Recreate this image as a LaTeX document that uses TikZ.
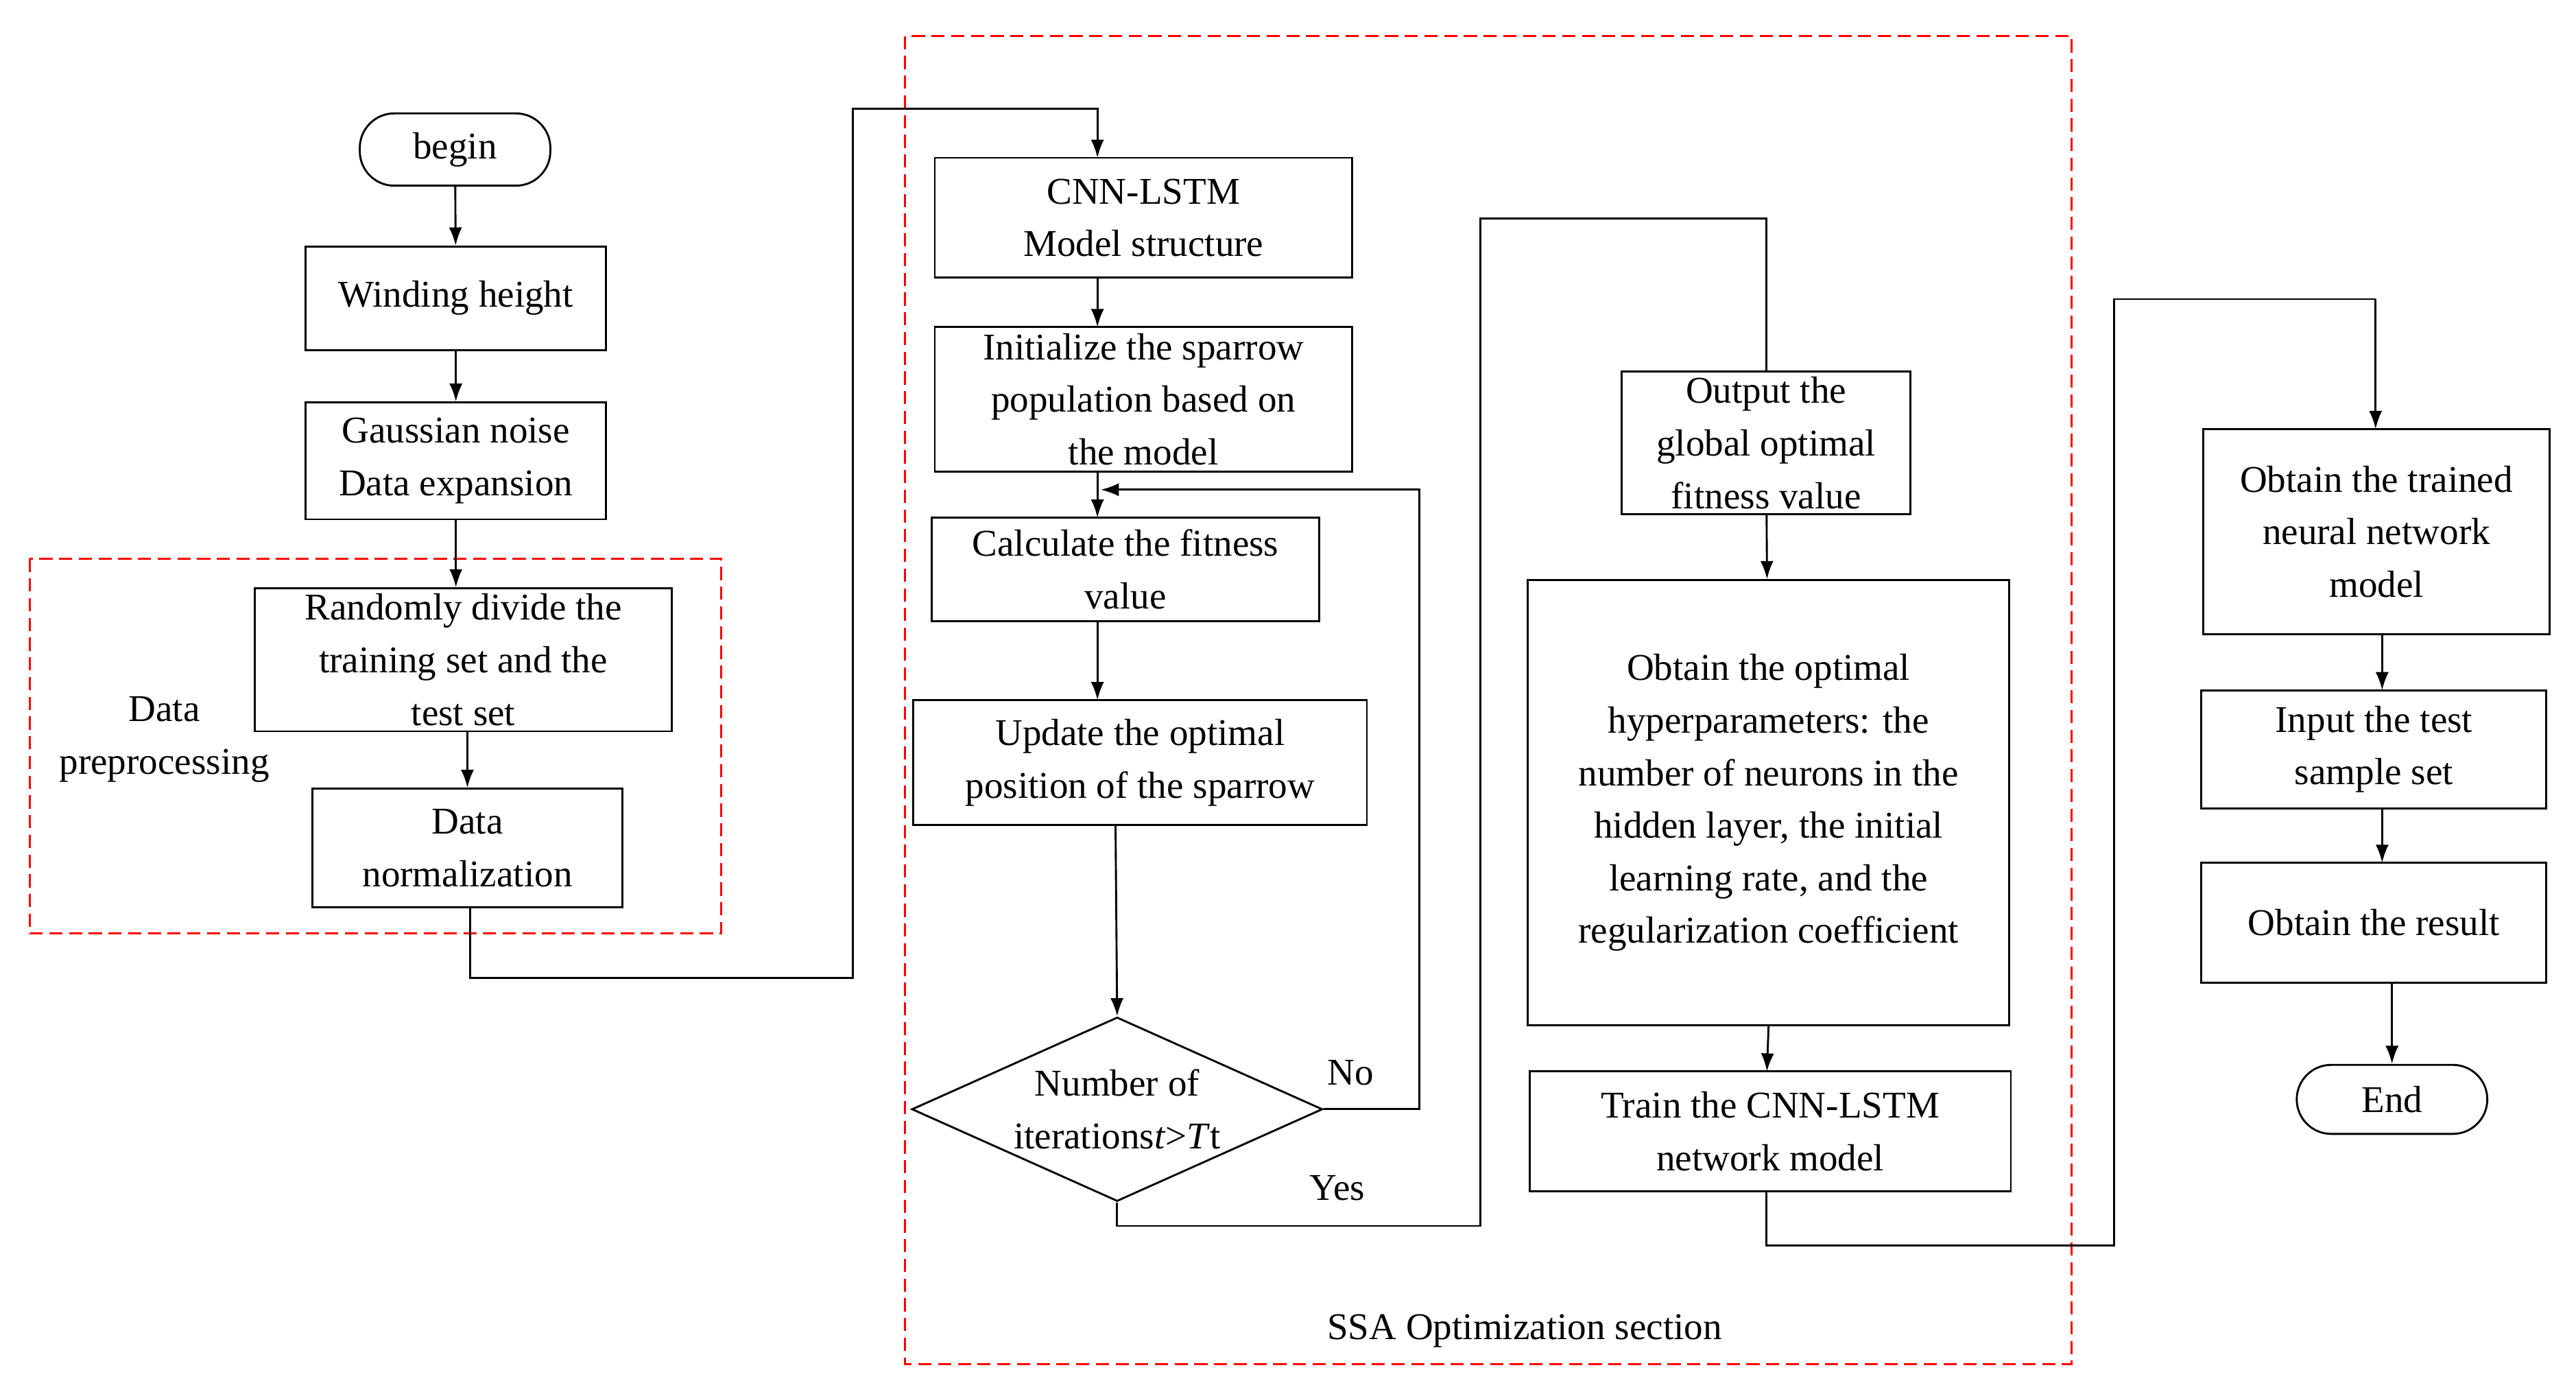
\documentclass[tikz,border=0pt]{standalone}
\usepackage{fontspec}
\setmainfont{Liberation Serif}
\usetikzlibrary{shapes.geometric,arrows.meta}
\begin{document}
\begin{tikzpicture}[x=1pt,y=-1pt,
  every node/.style={font=\fontsize{23}{32}\selectfont,align=center,inner sep=0pt},
  box/.style={draw,line width=1.2pt,rectangle},
  term/.style={draw,line width=1.2pt,rectangle,rounded corners=21pt},
  red/.style={draw=red,dashed,line width=1.3pt,dash pattern=on 8pt off 4pt},
  line/.style={line width=1.2pt},
  arr/.style={line width=1.2pt,-{Latex[length=11pt,width=8pt]}}]
\useasboundingbox (0,0) rectangle (1568,848);
\draw[red] (18,340) rectangle (439,568);
\draw[red] (551,22) rectangle (1261,830);
\node (lab1) at (100,450) {Data\\preprocessing};
\node (lab2) at (928,810) {SSA Optimization section};
\node[term,minimum width=116pt,minimum height=44pt] (begin) at (277,91) {begin};
\node[box,minimum width=183pt,minimum height=63pt] (wind) at (277.5,181.5) {Winding height};
\node[box,minimum width=183pt,minimum height=71pt] (gauss) at (277.5,280.5) {Gaussian noise\\Data expansion};
\node[box,minimum width=254pt,minimum height=87pt] (rand) at (282,401.5) {Randomly divide the\\training set and the\\test set};
\node[box,minimum width=189pt,minimum height=72pt] (norm) at (284.5,516) {Data\\normalization};
\node[box,minimum width=254pt,minimum height=73pt] (cnn) at (696,132.5) {CNN-LSTM\\Model structure};
\node[box,minimum width=254pt,minimum height=88pt] (init) at (696,243) {Initialize the sparrow\\population based on\\the model};
\node[box,minimum width=236pt,minimum height=63pt] (calc) at (685,346.5) {Calculate the fitness\\value};
\node[box,minimum width=276pt,minimum height=76pt] (upd) at (694,464) {Update the optimal\\position of the sparrow};
\node[draw,line width=1.2pt,diamond,aspect=2.23,minimum width=250pt,minimum height=112pt,inner sep=0pt] (dia) at (680,675) {};
\node at (680,675) {Number of\\iterations\textit{t}>\textit{T}t};
\node (no) at (822,653) {No};
\node (yes) at (814,723) {Yes};
\node[box,minimum width=176pt,minimum height=87pt] (out) at (1075,269.5) {Output the\\global optimal\\fitness value};
\node[box,minimum width=293pt,minimum height=271pt] (opt) at (1076.5,488.5) {Obtain the optimal\\hyperparameters: the\\number of neurons in the\\hidden layer, the initial\\learning rate, and the\\regularization coefficient};
\node[box,minimum width=293pt,minimum height=73pt] (train) at (1077.5,688.5) {Train the CNN-LSTM\\network model};
\node[box,minimum width=211pt,minimum height=125pt] (trained) at (1446.5,323.5) {Obtain the trained\\neural network\\model};
\node[box,minimum width=210pt,minimum height=72pt] (input) at (1445,456) {Input the test\\sample set};
\node[box,minimum width=210pt,minimum height=73pt] (res) at (1445,561.5) {Obtain the result};
\node[term,minimum width=116pt,minimum height=42pt] (end) at (1456,669) {End};
\coordinate (ra) at (286,595); \coordinate (rb) at (519,595);
\coordinate (rc) at (519,66); \coordinate (rd) at (668,66);
\coordinate (nl) at (864,675); \coordinate (nt) at (864,298); \coordinate (nh) at (670,298);
\coordinate (ya) at (680,746); \coordinate (yb) at (901,746); \coordinate (yc) at (901,133); \coordinate (yd) at (1075,133);
\coordinate (ta) at (1075,758); \coordinate (tb) at (1287,758); \coordinate (tc) at (1287,182); \coordinate (td) at (1446,182);
\draw[arr] (begin) -- (wind);
\draw[arr] (wind) -- (gauss);
\draw[arr] (gauss.south) -- (gauss.south |- rand.north);
\draw[arr] (norm.north |- rand.south) -- (norm.north);
\draw[arr] (286,552) -- (ra) -- (rb) -- (rc) -- (rd) -- (668,96);
\draw[arr] (668,169) -- (668,199);
\draw[arr] (668,287) -- (668,315);
\draw[arr] (668,378) -- (668,426);
\draw[arr] (679,502) -- (dia.north);
\draw[arr] (dia.east) -- (nl) -- (nt) -- (nh);
\draw[line] (dia.south) -- (ya) -- (yb) -- (yc) -- (yd) -- (out.north);
\draw[arr] (out) -- (opt);
\draw[arr] (opt.south -| train.north) ++(-1,0) -- (1075.5,652);
\draw[line] (1075,725) -- (ta) -- (tb) -- (tc) -- (td);
\draw[arr] (td) -- (1446,261);
\draw[arr] (1450,386) -- (1450,420);
\draw[arr] (1450,492) -- (1450,525);
\draw[arr] (1456,598) -- (end.north);
\end{tikzpicture}
\end{document}
